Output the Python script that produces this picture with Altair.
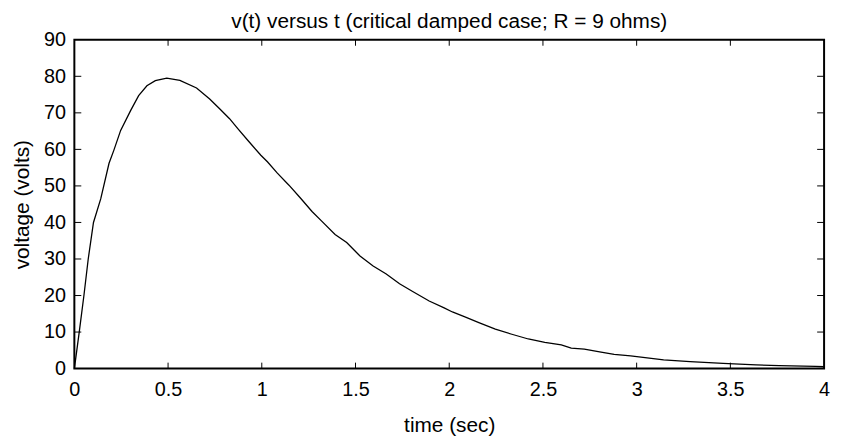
import altair as alt
import pandas as pd

# ---- data ----
t_vals = [0.0, 0.026, 0.051, 0.074, 0.102, 0.141, 0.185, 0.211, 0.247, 0.300,
          0.343, 0.387, 0.432, 0.493, 0.563, 0.652, 0.722, 0.775, 0.828, 0.872,
          0.925, 0.995, 1.030, 1.083, 1.145, 1.206, 1.268, 1.321, 1.391, 1.453,
          1.524, 1.594, 1.664, 1.735, 1.805, 1.893, 1.973, 2.017, 2.087, 2.158,
          2.246, 2.334, 2.422, 2.510, 2.598, 2.651, 2.721, 2.810, 2.880, 2.968,
          3.144, 3.285, 3.461, 3.637, 3.761, 3.954, 4.0]
v_vals = [0.0, 10.0, 20.0, 30.0, 40.0, 46.5, 56.2, 59.8, 65.2, 70.6,
          74.7, 77.4, 78.8, 79.5, 78.9, 76.8, 73.8, 71.1, 68.4, 65.7,
          62.5, 58.4, 56.6, 53.5, 50.2, 46.7, 43.0, 40.3, 36.7, 34.5,
          30.8, 28.1, 25.9, 23.2, 21.1, 18.5, 16.6, 15.5, 14.1, 12.6,
          10.8, 9.4, 8.1, 7.2, 6.5, 5.6, 5.3, 4.5, 3.9, 3.5,
          2.4, 1.9, 1.4, 1.0, 0.8, 0.6, 0.5]

x_label_vals = [0, 0.5, 1, 1.5, 2, 2.5, 3, 3.5, 4]
y_label_vals = [0, 10, 20, 30, 40, 50, 60, 70, 80, 90]
x_tick_vals = [0.5, 1, 1.5, 2, 2.5, 3, 3.5]
y_tick_vals = [10, 20, 30, 40, 50, 60, 70, 80]

title_text = "v(t) versus t (critical damped case; R = 9 ohms)"
x_title = "time (sec)"
y_title = "voltage (volts)"

W, H = 757, 332
FONT = "Liberation Sans"
FS = 20

curve = pd.DataFrame({"t": t_vals, "v": v_vals})
xt = pd.DataFrame({"t": x_tick_vals})
yt = pd.DataFrame({"v": y_tick_vals})

xs = alt.Scale(domain=[0, 4], nice=False, zero=False)
ys = alt.Scale(domain=[0, 90], nice=False, zero=False)
x_axis = alt.Axis(values=x_label_vals, format="~g", title=x_title,
                  labelPadding=11, titlePadding=16, labelFlush=False)
y_axis = alt.Axis(values=y_label_vals, format="d", title=y_title,
                  labelPadding=9, titlePadding=11, labelFlush=False)
x_enc = alt.X("t:Q", scale=xs, axis=x_axis)
y_enc = alt.Y("v:Q", scale=ys, axis=y_axis)

line = alt.Chart(curve).mark_line(color="black", strokeWidth=1.3).encode(
    x=x_enc, y=y_enc)

bottom_ticks = alt.Chart(xt).mark_rule(color="black", strokeWidth=1).encode(
    x=x_enc, y=alt.value(H), y2=alt.value(H - 6))
top_ticks = alt.Chart(xt).mark_rule(color="black", strokeWidth=1).encode(
    x=x_enc, y=alt.value(0), y2=alt.value(6))
left_ticks = alt.Chart(yt).mark_rule(color="black", strokeWidth=1).encode(
    y=y_enc, x=alt.value(0), x2=alt.value(7))
right_ticks = alt.Chart(yt).mark_rule(color="black", strokeWidth=1).encode(
    y=y_enc, x=alt.value(W), x2=alt.value(W - 7))

chart = alt.layer(line, bottom_ticks, top_ticks, left_ticks, right_ticks).properties(
    width=W, height=H,
    title=alt.TitleParams(title_text, font=FONT, fontSize=21, fontWeight="normal",
                          color="black", anchor="middle", offset=0, dy=2),
    autosize=alt.AutoSizeParams(type="none"),
    padding={"left": 67, "top": 30, "right": 9, "bottom": 68},
).configure_view(
    stroke="black", strokeWidth=2
).configure_axis(
    domain=False, ticks=False, grid=False,
    labelFont=FONT, labelFontSize=FS, labelColor="black",
    titleFont=FONT, titleFontSize=21, titleColor="black", titleFontWeight="normal",
)

chart.save("out.html", embed_options={"renderer": "svg", "actions": False})
